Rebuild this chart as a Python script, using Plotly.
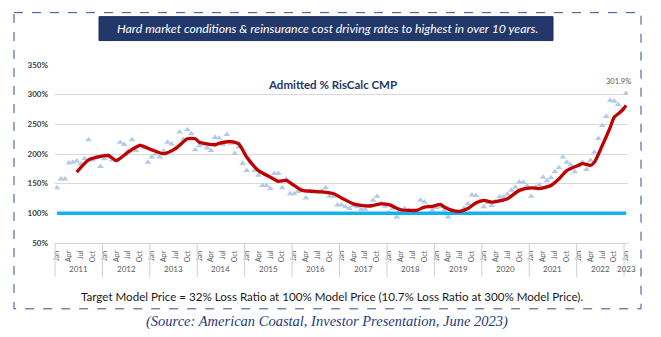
import plotly.graph_objects as go

# ---------------- data ----------------
years = [2011, 2012, 2013, 2014, 2015, 2016, 2017, 2018, 2019, 2020, 2021, 2022, 2023]
quarter_month_labels = ["Jan", "Apr", "Jul", "Oct"]
y_ticks = [50, 100, 150, 200, 250, 300, 350]

# monthly Admitted % RisCalc CMP, Jan 2011 .. Jan 2023
admitted_pct = [
    143, 158, 158, 185, 186, 188, 183, 192, 224, 190, 195, 179,   # 2011
    192, 195, 190, 189, 220, 216, 205, 224, 206, 214, 210, 186,   # 2012
    195, 200, 195, 205, 220, 217, 210, 237, 225, 241, 234, 207,   # 2013
    214, 217, 210, 206, 228, 227, 216, 233, 218, 201, 212, 184,   # 2014
    172, 186, 172, 164, 147, 147, 142, 167, 167, 143, 158, 133,   # 2015
    133, 137, 140, 126, 138, 136, 136, 138, 143, 129, 129, 114,   # 2016
    114, 111, 108, 113, 111, 107, 107, 112, 122, 129, 117, 112,   # 2017
    101, 108, 94, 105, 108, 105, 103, 103, 122, 119, 112, 105,    # 2018
    110, 111, 105, 94, 105, 101, 100, 108, 116, 131, 130, 120,    # 2019
    111, 118, 113, 120, 128, 127, 132, 139, 144, 153, 152, 146,   # 2020
    129, 144, 148, 161, 155, 160, 170, 177, 195, 186, 182, 170,   # 2021
    180, 186, 174, 189, 203, 226, 248, 263, 290, 289, 283, 276,   # 2022
    301.9,                                                        # 2023
]

# smoothed trend (red line), month index since Jan 2011
trend_month = [5, 8, 11, 13, 15, 18, 21, 24, 27, 30, 33, 35, 36, 40, 41, 44, 46,
               48, 51, 54, 56, 58, 60, 62, 65, 67, 70, 72, 75, 79, 82, 84, 87,
               89, 91, 93, 95, 97, 98, 100, 102, 104, 106, 108, 110, 114, 117,
               120, 122, 125, 127, 129, 132, 133, 135, 136, 138, 140, 141, 143, 144]
trend_pct = [169.5, 190, 196, 197.6, 189, 203, 214.5, 207, 200.5, 209, 225.7, 225.7, 220,
             215.6, 218, 221, 217, 195, 172, 161, 154, 155.5, 147, 138.7, 137, 136, 133,
             126, 116, 112.4, 116, 114.6, 106, 105, 105, 110.6, 111.8, 115, 110.6, 105,
             103.4, 108, 117.5, 122, 119, 124.7, 138.7, 143, 141.6, 147, 158, 172, 181,
             183.6, 181, 186, 214.5, 245, 262, 273, 282]

target_pct = 100
last_label = "301.9%"

# ---------------- geometry helpers (layout only) ----------------
FW, FH = 661, 337
L, R, T, B = 55, 33, 64.5, 94
PW, PH = FW - L - R, FH - T - B


def px(p):
    return (p - L) / PW


def py(p):
    return (FH - B - p) / PH


n = len(admitted_pct)
x = list(range(n))
tickvals = [i for i in x if i % 3 == 0]
ticktext = [quarter_month_labels[(i % 12) // 3] for i in tickvals]

fig = go.Figure()

fig.add_trace(go.Scatter(
    x=x, y=admitted_pct, mode="markers",
    marker=dict(symbol="triangle-up", size=6, color="#b4cbe8"),
    hoverinfo="skip", showlegend=False,
))
fig.add_trace(go.Scatter(
    x=[x[0], x[-1]], y=[target_pct, target_pct], mode="lines",
    line=dict(color="#12b2ec", width=3.5), hoverinfo="skip", showlegend=False,
))
fig.add_trace(go.Scatter(
    x=trend_month, y=trend_pct, mode="lines",
    line=dict(color="#c00000", width=3.3, shape="spline", smoothing=0.6),
    hoverinfo="skip", showlegend=False,
))

shapes = []
# dashed outer frame
shapes.append(dict(type="rect", xref="paper", yref="paper",
                   x0=px(14), x1=px(641), y0=py(12), y1=py(309),
                   line=dict(color="#2f4f8f", width=1, dash="dash"), layer="below"))
# banner
shapes.append(dict(type="rect", xref="paper", yref="paper",
                   x0=px(99), x1=px(553), y0=py(16), y1=py(40),
                   line=dict(color="#1c2f5c", width=1), fillcolor="#22386a", layer="below"))
# category box: left edge and year dividers
div_bottom = py(277)
shapes.append(dict(type="line", xref="paper", yref="paper", x0=0, x1=0,
                   y0=0, y1=div_bottom, line=dict(color="#d0d0d0", width=1)))
for k in range(1, len(years)):
    xv = 12 * k - 0.5
    shapes.append(dict(type="line", xref="x", yref="paper", x0=xv, x1=xv,
                       y0=0, y1=div_bottom, line=dict(color="#d0d0d0", width=1)))

annotations = []
for k, yr in enumerate(years):
    if yr == years[-1]:
        xc = 12 * k
    else:
        xc = 12 * k + 5.5
    annotations.append(dict(x=xc, xref="x", y=0, yref="paper", yshift=-26,
                            text=str(yr), showarrow=False, yanchor="middle",
                            font=dict(family="Lato", size=8, color="#595959")))

annotations += [
    dict(x=px(327), y=py(28), xref="paper", yref="paper", showarrow=False,
         xanchor="center", yanchor="middle",
         text="<i>Hard market conditions &amp; reinsurance cost driving rates to highest in over 10 years.</i>",
         font=dict(family="Lato", size=12.3, color="white")),
    dict(x=px(332), y=py(84), xref="paper", yref="paper", showarrow=False,
         xanchor="center", yanchor="middle",
         text="<b>Admitted % RisCalc CMP</b>",
         font=dict(family="Lato", size=11.5, color="#1f3864")),
    dict(x=x[-1], y=admitted_pct[-1], xref="x", yref="y", showarrow=False,
         xanchor="center", yanchor="middle",
         text=last_label, yshift=12, xshift=-8,
         font=dict(family="Lato", size=7.5, color="#595959")),
    dict(x=px(332), y=py(297), xref="paper", yref="paper", showarrow=False,
         xanchor="center", yanchor="middle",
         text="Target Model Price = 32% Loss Ratio at 100% Model Price (10.7% Loss Ratio at 300% Model Price).",
         font=dict(family="Lato", size=11.6, color="#1a1a1a")),
    dict(x=px(327), y=py(322), xref="paper", yref="paper", showarrow=False,
         xanchor="center", yanchor="middle",
         text="<i>(Source: American Coastal, Investor Presentation, June 2023)</i>",
         font=dict(family="Liberation Serif", size=14.5, color="#1f3a7a")),
]

fig.update_layout(
    width=FW, height=FH,
    margin=dict(l=L, r=R, t=T, b=B),
    paper_bgcolor="white", plot_bgcolor="white",
    shapes=shapes, annotations=annotations,
    xaxis=dict(range=[-0.5, n - 0.5], tickmode="array", tickvals=tickvals, ticktext=ticktext,
               tickangle=-90, tickfont=dict(family="Lato", size=7, color="#595959"),
               showgrid=False, zeroline=False, showline=True, linecolor="#d0d0d0",
               ticks="", ticklabelstandoff=4, fixedrange=True),
    yaxis=dict(range=[50, 350], tickmode="array", tickvals=y_ticks,
               ticktext=[f"{v}%" for v in y_ticks],
               tickfont=dict(family="Lato", size=8, color="#404040", weight="bold"),
               showgrid=True, gridcolor="#d9d9d9", gridwidth=1, zeroline=False,
               showline=False, ticks="", ticklabelstandoff=6, fixedrange=True),
)

fig.write_html("out.html")
